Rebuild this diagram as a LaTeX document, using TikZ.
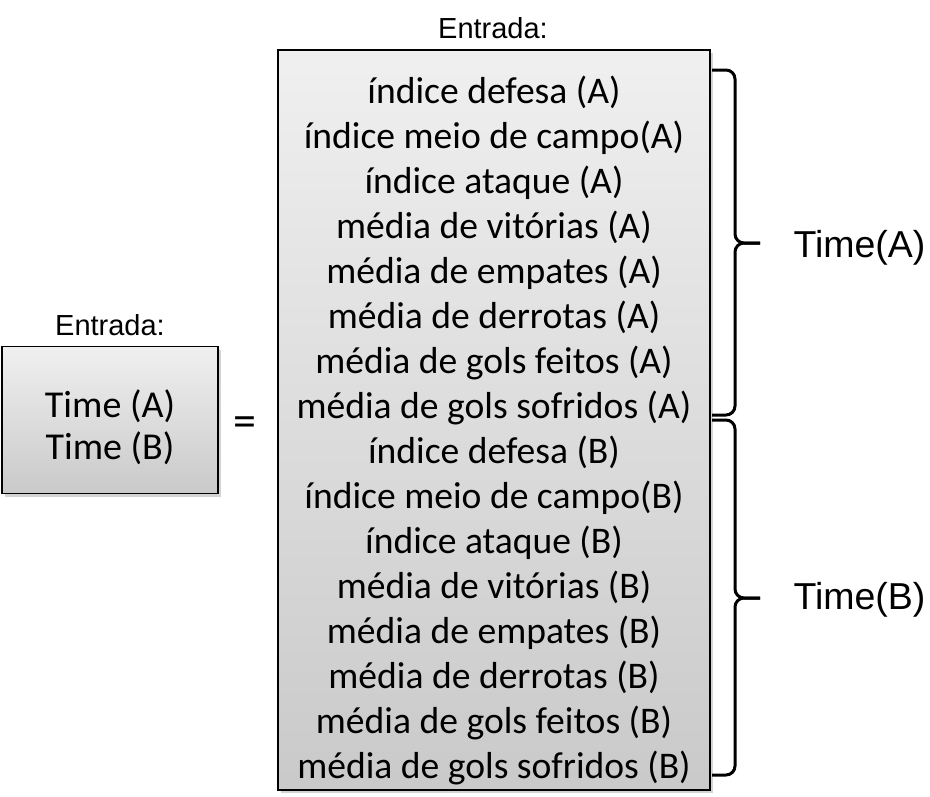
\documentclass[tikz,border=0pt]{standalone}
\usepackage{fontspec}
\setmainfont{Carlito}
\newfontfamily\arialfont{Liberation Sans}
\usetikzlibrary{positioning,shadows}

\begin{document}
\begin{tikzpicture}[x=1pt,y=-1pt,
   caixa/.style={draw=black,line width=1.2pt,top color=gray!12,bottom color=gray!42,
     drop shadow={shadow xshift=3pt,shadow yshift=-3pt,opacity=0.35}},
   rotulo/.style={font=\arialfont\fontsize{29}{34}\selectfont},
   chave/.style={line width=3pt,rounded corners=9pt},
   time/.style={font=\arialfont\fontsize{37.5}{44}\selectfont,anchor=west}]
   \useasboundingbox (0,0) rectangle (930,796);
   % entrada resumida
   \node[rotulo] (titulo2) at (110,325) {Entrada:};
   \node[caixa,minimum width=216pt,minimum height=147pt] (entrada) at (110,420) {};
   \node[align=center,font=\fontsize{38}{42}\selectfont] (times) at (110,427) {Time (A)\\Time (B)};
   \node[font=\fontsize{46}{50}\selectfont] (igual) at (245,427) {=};
   % entrada completa
   \node[rotulo] (titulo) at (493,28) {Entrada:};
   \node[caixa,minimum width=432pt,minimum height=740pt] (lista) at (494,420) {};
   \node[align=center,font=\fontsize{37.6}{45}\selectfont] (itens) at (494,430) {%
      índice defesa (A)\\ índice meio de campo(A)\\ índice ataque (A)\\
      média de vitórias (A)\\ média de empates (A)\\ média de derrotas (A)\\
      média de gols feitos (A)\\ média de gols sofridos (A)\\
      índice defesa (B)\\ índice meio de campo(B)\\ índice ataque (B)\\
      média de vitórias (B)\\ média de empates (B)\\ média de derrotas (B)\\
      média de gols feitos (B)\\ média de gols sofridos (B)};
   % chaves
   \coordinate (a1) at (712,70);
   \coordinate (a2) at (712,415);
   \coordinate (b1) at (712,420);
   \coordinate (b2) at (712,775);
   \draw[chave] (a1) -- ++(23,0) -- ++(0,173) -- ++(25,0);
   \draw[chave] (a2) -- ++(23,0) -- ++(0,-172) -- ++(25,0);
   \draw[chave] (b1) -- ++(23,0) -- ++(0,178) -- ++(25,0);
   \draw[chave] (b2) -- ++(23,0) -- ++(0,-177) -- ++(25,0);
   \node[time] (timeA) at (790,248) {Time(A)};
   \node[time] (timeB) at (790,600) {Time(B)};
\end{tikzpicture}
\end{document}
